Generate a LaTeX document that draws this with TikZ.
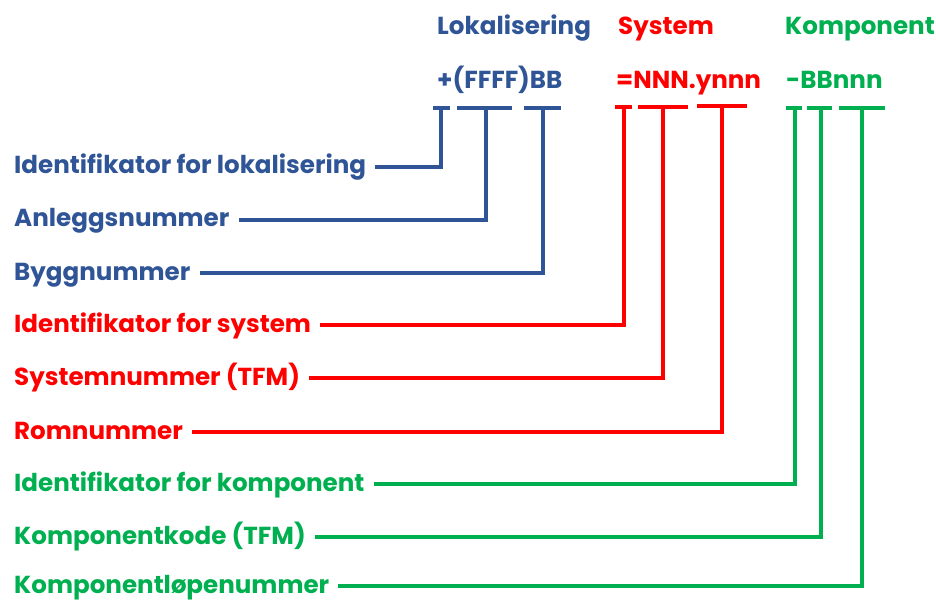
\documentclass[tikz,border=0pt]{standalone}
\usepackage{fontspec}
\setmainfont{Poppins}
\definecolor{cblue}{HTML}{2F5597}
\definecolor{cred}{HTML}{FF0000}
\definecolor{cgreen}{HTML}{00B050}
\begin{document}
\begin{tikzpicture}[x=1pt,y=-1pt,
  lbl/.style={anchor=west,inner sep=0pt,text height=19pt,text depth=5pt,font=\fontsize{24.6}{26}\selectfont\bfseries},
  hdr/.style={anchor=base west,inner sep=0pt,font=\fontsize{24.6}{26}\selectfont\bfseries},
  conn/.style={line width=3.2pt},
  bar/.style={line width=3.2pt}]
\useasboundingbox (0,0) rectangle (936,601);
% headers
\node[hdr,text=cblue] (h1) at (437,35) {Lokalisering};
\node[hdr,text=cred] (h2) at (618,35) {System};
\node[hdr,text=cgreen] (h3) at (785,35) {Komponent};
\node[hdr,text=cblue] (c1) at (437,89) {+(FFFF)BB};
\node[hdr,text=cred] (c2) at (616,89) {=NNN.ynnn};
\node[hdr,text=cgreen] (c3) at (786,89) {-BBnnn};
% bars and ticks
\coordinate (a1) at (433,108); \coordinate (b1) at (450,108); \coordinate (t1) at (441,108);
\coordinate (a2) at (457,108); \coordinate (b2) at (512,108); \coordinate (t2) at (486,108);
\coordinate (a3) at (524,108); \coordinate (b3) at (561,108); \coordinate (t3) at (543,108);
\coordinate (a4) at (615,107); \coordinate (b4) at (632,107); \coordinate (t4) at (624,107);
\coordinate (a5) at (638,107); \coordinate (b5) at (688,107); \coordinate (t5) at (663,107);
\coordinate (a6) at (697,106); \coordinate (b6) at (747,106); \coordinate (t6) at (722,106);
\coordinate (a7) at (786,108); \coordinate (b7) at (802,108); \coordinate (t7) at (795,108);
\coordinate (a8) at (807,108); \coordinate (b8) at (832,108); \coordinate (t8) at (821,108);
\coordinate (a9) at (839,108); \coordinate (b9) at (885,108); \coordinate (t9) at (862,108);
% labels
\node[lbl,text=cblue] (l1) at (14,167) {Identifikator for lokalisering};
\node[lbl,text=cblue] (l2) at (14,220) {Anleggsnummer};
\node[lbl,text=cblue] (l3) at (14,273) {Byggnummer};
\node[lbl,text=cred] (l4) at (14,325) {Identifikator for system};
\node[lbl,text=cred] (l5) at (14,378) {Systemnummer (TFM)};
\node[lbl,text=cred] (l6) at (14,432) {Romnummer};
\node[lbl,text=cgreen] (l7) at (14,484) {Identifikator for komponent};
\node[lbl,text=cgreen] (l8) at (14,537) {Komponentkode (TFM)};
\node[lbl,text=cgreen] (l9) at (14,586) {Komponentløpenummer};
% draw
\foreach \i/\c in {1/cblue,2/cblue,3/cblue,4/cred,5/cred,6/cred,7/cgreen,8/cgreen,9/cgreen}{
  \draw[bar,draw=\c] (a\i) -- (b\i);
  \draw[conn,draw=\c] ([xshift=9pt]l\i.east) -| (t\i);
}
\end{tikzpicture}
\end{document}
